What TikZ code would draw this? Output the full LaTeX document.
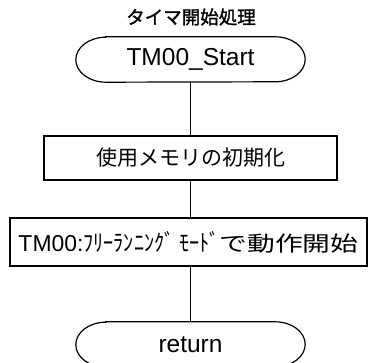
\documentclass[tikz,border=0pt]{standalone}
\usepackage{fontspec}
\usepackage{graphicx}
\setmainfont{Liberation Sans}
\newfontfamily\jp{Noto Sans CJK JP}
\newfontfamily\jpm[FakeBold=1.4]{Noto Sans CJK JP}
\begin{document}
\begin{tikzpicture}[x=1pt,y=-1pt,
  ln/.style={line width=1.2pt,black},
  termnode/.style={minimum width=229pt,minimum height=45pt,inner sep=0pt,font=\fontsize{24.5}{28}\selectfont},
  procbox/.style={draw,line width=1.2pt,inner sep=0pt,minimum height=#1},
  procbox/.default=44pt]
\useasboundingbox (0,0) rectangle (369,363);
\clip (0,0) rectangle (369,363);
\node[font=\jpm\fontsize{18.5}{20}\selectfont] (title) at (191,17) {タイマ開始処理};
\node[termnode] (start) at (190.5,59.5) {TM00\_Start};
\node[procbox, minimum width=293pt, font=\jp\fontsize{21}{24}\selectfont] (init) at (190.5,158) {使用メモリの初期化};
\node[procbox=48pt, minimum width=357pt, font=\jp\fontsize{21}{24}\selectfont] (run) at (188.5,242) {\resizebox{65pt}{\height}{\rmfamily\fontsize{23}{26}\selectfont TM00:}\resizebox{136pt}{1.12\height}{ﾌﾘｰﾗﾝﾆﾝｸﾞ ﾓｰﾄﾞ}\resizebox{139pt}{\height}{で動作開始}};
\node[termnode] (ret) at (190.5,344.5) {return};
\foreach \n in {start,ret}{
  \draw[ln] ([xshift=30pt]\n.north west) -- ([xshift=-30pt]\n.north east)
    arc[start angle=90,end angle=-90,x radius=30pt,y radius=22.5pt]
    -- ([xshift=30pt]\n.south west)
    arc[start angle=270,end angle=90,x radius=30pt,y radius=22.5pt] -- cycle;
}
\draw[ln] (start.south) -- (init.north);
\draw[ln] (init.south) -- (init.south |- run.north);
\draw[ln] (init.south |- run.south) -- (ret.north);
\end{tikzpicture}
\end{document}
